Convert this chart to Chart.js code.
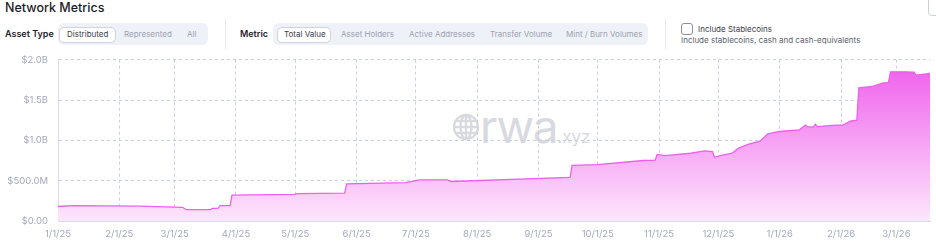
<!DOCTYPE html>
<html lang="en">
<head>
<meta charset="UTF-8" />
<title>Network Metrics</title>
<script src="https://cdn.jsdelivr.net/npm/chart.js"></script>
<style>
    body { margin: 0; width: 936px; height: 247px; overflow: hidden; background: #fff; font-family: Inter, "Noto Sans", sans-serif; position: relative; }
    .abs { position: absolute; white-space: nowrap; }
    .titulo { left: 5px; top: 0px; font-size: 12.5px; font-weight: 500; color: #1b1d26; }
    .rotulo { font-size: 9px; font-weight: 600; color: #1f2230; top: 28px; }
    .grupo { background: #eef1f8; border-radius: 6px; top: 23px; height: 22px; }
    .botao { top: 27px; height: 14px; background: #fff; border: 1px solid #cfd3dd; border-radius: 5px; }
    .op { font-size: 8px; color: #9ca2ae; top: 29px; }
    .op.ativo { color: #3a3d48; }
    .sep { width: 1px; background: #e6e8ee; top: 19px; height: 30px; }
    .check { left: 681px; top: 23px; width: 10px; height: 10px; border: 1px solid #8a8f9c; border-radius: 3px; }
    #grafico { position: absolute; left: 0; top: 44px; }
</style>
</head>
<body>
    <div class="abs titulo">Network Metrics</div>
    <div class="abs" style="left:928px;top:-6px;width:20px;height:20px;border:1px solid #cdd0d8;border-radius:4px;"></div>

    <div class="abs rotulo" style="left:5px;">Asset Type</div>
    <div class="abs grupo" style="left:58px;width:150px;"></div>
    <div class="abs botao" style="left:59px;width:55px;"></div>
    <div class="abs op ativo" style="left:67px;">Distributed</div>
    <div class="abs op" style="left:124px;">Represented</div>
    <div class="abs op" style="left:187px;">All</div>

    <div class="abs sep" style="left:225px;"></div>

    <div class="abs rotulo" style="left:240px;">Metric</div>
    <div class="abs grupo" style="left:273px;width:375px;"></div>
    <div class="abs botao" style="left:277px;width:52px;"></div>
    <div class="abs op ativo" style="left:284px;">Total Value</div>
    <div class="abs op" style="left:341px;">Asset Holders</div>
    <div class="abs op" style="left:409px;">Active Addresses</div>
    <div class="abs op" style="left:490px;">Transfer Volume</div>
    <div class="abs op" style="left:566px;">Mint / Burn Volumes</div>

    <div class="abs sep" style="left:665px;"></div>

    <div class="abs check"></div>
    <div class="abs" style="left:698px;top:24px;font-size:8px;color:#3a3d48;">Include Stablecoins</div>
    <div class="abs" style="left:681px;top:35px;font-size:8px;color:#5a5f6c;">Include stablecoins, cash and cash-equivalents</div>

    <!-- marca d'agua -->
    <svg class="abs" style="left:452px;top:113px;" width="28" height="28" viewBox="0 0 28 28">
        <g fill="none" stroke="#d8dae0" stroke-width="2.4">
            <circle cx="14" cy="14" r="12" />
            <ellipse cx="14" cy="14" rx="5.5" ry="12" />
            <line x1="2" y1="14" x2="26" y2="14" />
            <line x1="14" y1="2" x2="14" y2="26" />
            <line x1="4" y1="8" x2="24" y2="8" />
            <line x1="4" y1="20" x2="24" y2="20" />
        </g>
    </svg>
    <div class="abs" style="left:480px;top:98px;font-size:46px;color:#d8dae0;letter-spacing:-1.3px;">rwa<span style="font-size:17px;letter-spacing:0;">.xyz</span></div>

    <canvas id="grafico" width="936" height="202"></canvas>

<script>
    // dados (datas e valor total em US$)
    var datas = [
        '2025-01-01', '2025-01-09', '2025-02-11', '2025-03-05', '2025-03-07', '2025-03-19',
        '2025-03-20', '2025-03-23', '2025-03-24', '2025-03-29', '2025-03-30', '2025-05-01',
        '2025-05-02', '2025-05-26', '2025-05-27', '2025-06-26', '2025-07-01', '2025-07-03',
        '2025-07-17', '2025-07-19', '2025-09-17', '2025-09-18', '2025-10-01', '2025-10-24',
        '2025-10-30', '2025-10-31', '2025-11-04', '2025-11-17', '2025-11-24', '2025-11-28',
        '2025-11-29', '2025-12-02', '2025-12-08', '2025-12-11', '2025-12-16', '2025-12-22',
        '2025-12-26', '2026-01-01', '2026-01-11', '2026-01-14', '2026-01-15', '2026-01-18',
        '2026-01-19', '2026-01-20', '2026-01-29', '2026-02-02', '2026-02-06', '2026-02-09',
        '2026-02-10', '2026-02-17', '2026-02-22', '2026-02-25', '2026-02-26', '2026-03-05',
        '2026-03-10', '2026-03-11', '2026-03-18'
    ];
    var valores = [
        0.18e9, 0.19e9, 0.185e9, 0.17e9, 0.14e9, 0.14e9,
        0.155e9, 0.16e9, 0.19e9, 0.19e9, 0.32e9, 0.33e9,
        0.34e9, 0.345e9, 0.46e9, 0.475e9, 0.50e9, 0.51e9,
        0.51e9, 0.49e9, 0.54e9, 0.69e9, 0.70e9, 0.75e9,
        0.755e9, 0.825e9, 0.81e9, 0.84e9, 0.87e9, 0.86e9,
        0.79e9, 0.81e9, 0.84e9, 0.90e9, 0.95e9, 0.99e9,
        1.08e9, 1.11e9, 1.13e9, 1.19e9, 1.17e9, 1.165e9,
        1.20e9, 1.17e9, 1.19e9, 1.19e9, 1.24e9, 1.25e9,
        1.65e9, 1.67e9, 1.71e9, 1.72e9, 1.85e9, 1.85e9,
        1.845e9, 1.81e9, 1.83e9
    ];
    var datas_ticks = [
        '2025-01-01', '2025-02-01', '2025-03-01', '2025-04-01', '2025-05-01', '2025-06-01',
        '2025-07-01', '2025-08-01', '2025-09-01', '2025-10-01', '2025-11-01', '2025-12-01',
        '2026-01-01', '2026-02-01', '2026-03-01'
    ];
    var rotulos_ticks = [
        '1/1/25', '2/1/25', '3/1/25', '4/1/25', '5/1/25', '6/1/25', '7/1/25', '8/1/25',
        '9/1/25', '10/1/25', '11/1/25', '12/1/25', '1/1/26', '2/1/26', '3/1/26'
    ];

    var inicio = Date.UTC(2025, 0, 1);
    function dias(d) {
        var p = d.split('-');
        return (Date.UTC(+p[0], +p[1] - 1, +p[2]) - inicio) / 86400000;
    }

    var pontos = [];
    for (var i = 0; i < datas.length; i++) {
        pontos.push({ x: dias(datas[i]), y: valores[i] });
    }
    var ticks_x = datas_ticks.map(dias);

    function formata(v) {
        if (v === 0) return '$0.00';
        if (v >= 1e9) return '$' + (v / 1e9).toFixed(1) + 'B';
        return '$' + (v / 1e6).toFixed(1) + 'M';
    }

    var corTexto = '#a2a9bc';
    var fonte = { family: 'Inter', size: 9.5 };

    new Chart(document.getElementById('grafico'), {
        type: 'line',
        data: {
            datasets: [{
                label: 'Total Value',
                data: pontos,
                borderColor: '#ec60ea',
                borderWidth: 1.3,
                pointRadius: 0,
                tension: 0,
                fill: 'origin',
                backgroundColor: function (context) {
                    var area = context.chart.chartArea;
                    if (!area) return 'rgba(238,92,235,0.4)';
                    var g = context.chart.ctx.createLinearGradient(0, area.top, 0, area.bottom);
                    g.addColorStop(0, '#ee5ceb');
                    g.addColorStop(1, '#fde6fc');
                    return g;
                }
            }]
        },
        options: {
            responsive: false,
            animation: false,
            layout: { padding: { top: 5, right: 6, left: 0, bottom: 0 } },
            plugins: {
                legend: { display: false },
                tooltip: { enabled: false }
            },
            scales: {
                x: {
                    type: 'linear',
                    min: 0,
                    max: dias('2026-03-18'),
                    afterBuildTicks: function (scale) {
                        scale.ticks = ticks_x.map(function (v) { return { value: v }; });
                    },
                    afterFit: function (scale) { scale.height = 25; },
                    grid: { color: '#c9cee0', drawTicks: false },
                    border: { display: true, color: '#d9dcec', dash: [3, 3] },
                    ticks: {
                        autoSkip: false,
                        maxRotation: 0,
                        padding: 7,
                        color: corTexto,
                        font: fonte,
                        callback: function (v, idx) { return rotulos_ticks[idx]; }
                    }
                },
                y: {
                    min: 0,
                    max: 2e9,
                    afterFit: function (scale) { scale.width = 58; },
                    grid: { color: '#c9cee0', drawTicks: false },
                    border: { display: true, color: '#d9dcec', dash: [3, 3] },
                    ticks: {
                        stepSize: 5e8,
                        padding: 10,
                        color: corTexto,
                        font: fonte,
                        callback: formata
                    }
                }
            }
        }
    });
</script>
</body>
</html>
